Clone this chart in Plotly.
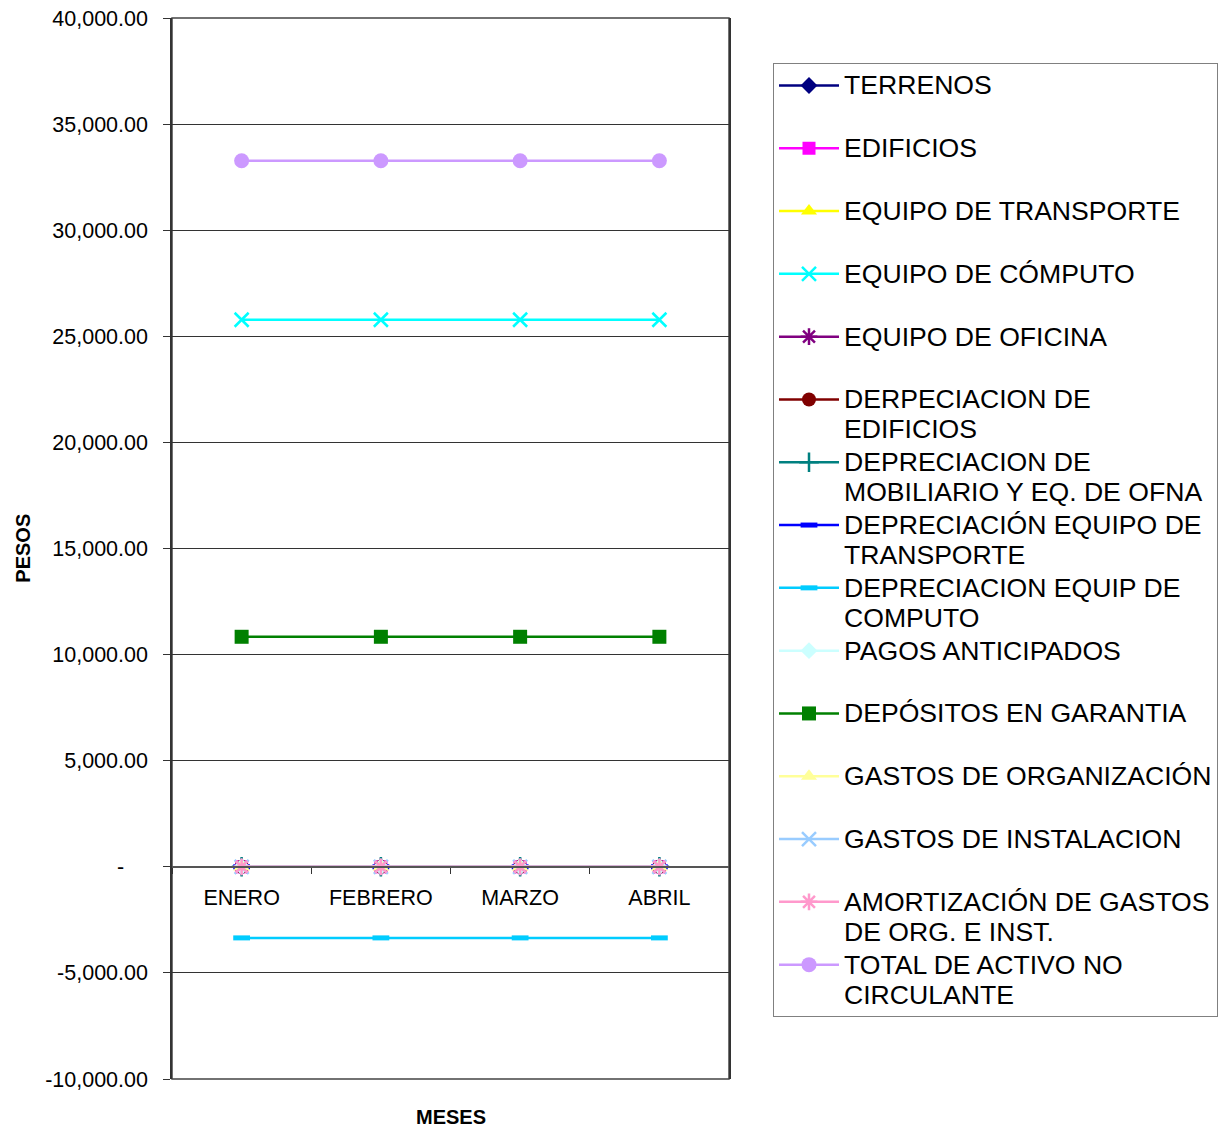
import plotly.graph_objects as go

# ---------------- data ----------------
months = ["ENERO", "FEBRERO", "MARZO", "ABRIL"]

terrenos = [0, 0, 0, 0]
edificios = [0, 0, 0, 0]
equipo_transporte = [0, 0, 0, 0]
equipo_computo = [25780, 25780, 25780, 25780]
equipo_oficina = [0, 0, 0, 0]
dep_edificios = [0, 0, 0, 0]
dep_mobiliario = [0, 0, 0, 0]
dep_eq_transporte = [0, 0, 0, 0]
dep_eq_computo = [-3350, -3350, -3350, -3350]
pagos_anticipados = [0, 0, 0, 0]
depositos_garantia = [10840, 10840, 10840, 10840]
gastos_organizacion = [0, 0, 0, 0]
gastos_instalacion = [0, 0, 0, 0]
amortizacion = [0, 0, 0, 0]
total_no_circulante = [33270, 33270, 33270, 33270]

y_tick_values = [-10000, -5000, 0, 5000, 10000, 15000, 20000, 25000, 30000, 35000, 40000]
y_tick_labels = ["-10,000.00", "-5,000.00", "-\u00a0\u00a0\u00a0\u00a0", "5,000.00", "10,000.00",
                 "15,000.00", "20,000.00", "25,000.00", "30,000.00", "35,000.00", "40,000.00"]

# legend label lines
names = [
    ["TERRENOS"],
    ["EDIFICIOS"],
    ["EQUIPO DE TRANSPORTE"],
    ["EQUIPO DE CÓMPUTO"],
    ["EQUIPO DE OFICINA"],
    ["DERPECIACION DE", "EDIFICIOS"],
    ["DEPRECIACION DE", "MOBILIARIO Y EQ. DE OFNA"],
    ["DEPRECIACIÓN EQUIPO DE", "TRANSPORTE"],
    ["DEPRECIACION EQUIP DE", "COMPUTO"],
    ["PAGOS ANTICIPADOS"],
    ["DEPÓSITOS EN GARANTIA"],
    ["GASTOS DE ORGANIZACIÓN"],
    ["GASTOS DE INSTALACION"],
    ["AMORTIZACIÓN DE GASTOS", "DE ORG. E INST."],
    ["TOTAL DE ACTIVO NO", "CIRCULANTE"],
]
values = [terrenos, edificios, equipo_transporte, equipo_computo, equipo_oficina,
          dep_edificios, dep_mobiliario, dep_eq_transporte, dep_eq_computo,
          pagos_anticipados, depositos_garantia, gastos_organizacion,
          gastos_instalacion, amortizacion, total_no_circulante]

# ---------------- styles ----------------
colors = ["#000080", "#FF00FF", "#FFFF00", "#00FFFF", "#800080",
          "#800000", "#008080", "#0000FF", "#00CCFF", "#CCFFFF",
          "#008000", "#FFFF99", "#99CCFF", "#FF99CC", "#CC99FF"]
symbols = ["diamond", "square", "triangle-up", "x-thin", "asterisk",
           "circle", "cross-thin", "line-ew", "line-ew", "diamond",
           "square", "triangle-up", "x-thin", "asterisk", "circle"]
sizes = [13, 13, 14, 14, 14, 14, 14, 12, 12, 13, 14, 14, 14, 14, 15]

LEG_TXT = 26.6


def label(lines):
    parts = ['<span style="font-size:%spx">%s</span>' % (LEG_TXT, s) for s in lines]
    if len(parts) == 1:
        parts.append('<span style="font-size:%spx">&nbsp;</span>' % LEG_TXT)
    return "<br>".join(parts)


fig = go.Figure()
for nm, vals, col, sym, sz in zip(names, values, colors, symbols, sizes):
    open_like = sym in ("x-thin", "asterisk", "cross-thin", "line-ew")
    marker = dict(symbol=sym, size=sz, color=col,
                  line=dict(color=col, width=(5 if sym == "line-ew" else 2.5) if open_like else 0))
    fig.add_trace(go.Scatter(
        x=months, y=vals, name=label(nm), mode="lines+markers",
        line=dict(color=col, width=2.5), marker=marker,
    ))

fig.update_layout(
    width=1225, height=1129,
    margin=dict(l=172, r=496, t=18, b=50),
    paper_bgcolor="white", plot_bgcolor="white",
    font=dict(family="Liberation Sans, Arial, sans-serif", color="black"),
    showlegend=True,
    legend=dict(
        xref="container", yref="container",
        x=773 / 1225, y=1 - 63 / 1129, xanchor="left", yanchor="top",
        maxheight=1100,
        bordercolor="#808080", borderwidth=1,
        font=dict(size=23, color="black"),
        valign="top", itemwidth=60, tracegroupgap=0,
    ),
    xaxis=dict(
        type="category", range=[-0.5, 3.5], automargin=False,
        anchor="free", position=0.2,
        showline=True, linecolor="#555555", linewidth=1.5,
        ticks="outside", tickson="boundaries", ticklen=6, tickcolor="#333333",
        showgrid=False, zeroline=False,
        tickfont=dict(size=21.5, color="black"),
        ticklabelstandoff=12,
    ),
    yaxis=dict(
        range=[-10000, 40000], automargin=False,
        tickmode="array", tickvals=y_tick_values, ticktext=y_tick_labels,
        showgrid=True, gridcolor="#333333", gridwidth=1,
        showline=True, linecolor="#333333", linewidth=1.5, mirror=True,
        ticks="outside", ticklen=7, tickcolor="#333333",
        zeroline=False,
        tickfont=dict(size=21.5, color="black"),
        ticklabelstandoff=11,
    ),
    shapes=[
        dict(type="rect", xref="paper", yref="paper", x0=0, x1=1, y0=0, y1=1,
             line=dict(color="#444444", width=1.5), fillcolor="rgba(0,0,0,0)", layer="below"),
    ],
    annotations=[
        dict(text="<b>PESOS</b>", x=-0.269, y=0.5, xref="paper", yref="paper",
             textangle=-90, showarrow=False, font=dict(size=20, color="black"),
             xanchor="center", yanchor="middle"),
        dict(text="<b>MESES</b>", x=0.5, y=-0.0358, xref="paper", yref="paper",
             showarrow=False, font=dict(size=20, color="black"),
             xanchor="center", yanchor="middle"),
    ],
)

fig.write_html("out.html")
